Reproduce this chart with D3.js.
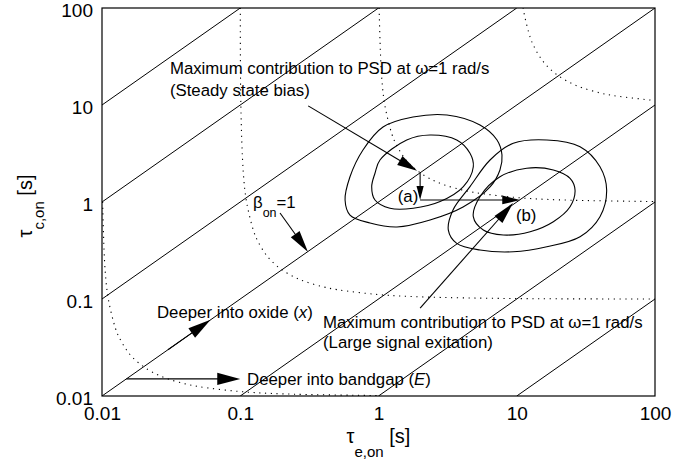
<!DOCTYPE html>
<html><head><meta charset="utf-8">
<script src="https://cdn.jsdelivr.net/npm/d3@7"></script>
<style>
body{margin:0;background:#fff}
svg{display:block}
text{font-family:"Liberation Sans",Arial,Helvetica,sans-serif;fill:#000}
</style>
</head><body>
<svg id="c" width="696" height="464"></svg>
<script>
// ---------- data ----------
const tickValues = [0.01, 0.1, 1, 10, 100];
const tickLabels = ["0.01", "0.1", "1", "10", "100"];
// lines of constant tau_c/tau_e
const diagonalRatios = [1000, 100, 10, 1, 0.1, 0.01, 0.001];
// dotted iso-curves (tau_e, tau_c)
const isoTau001 = [[0.010101,1],[0.010526,0.2],[0.01111,0.1],[0.0125,0.05],[0.01333,0.04],[0.015,0.03],[0.01667,0.025],[0.02,0.02],[0.025,0.01667],[0.03,0.015],[0.04,0.01333],[0.05,0.0125],[0.1,0.01111],[0.2,0.010526],[1,0.010101]];
const isoTau01 = [[0.1001,100],[0.10101,10],[0.10526,2],[0.1111,1],[0.125,0.5],[0.1333,0.4],[0.15,0.3],[0.1667,0.25],[0.2,0.2],[0.25,0.1667],[0.3,0.15],[0.4,0.1333],[0.5,0.125],[1,0.1111],[2,0.10526],[10,0.10101],[100,0.1001]];
const isoTau1 = [[1.0101,100],[1.0526,20],[1.111,10],[1.25,5],[1.333,4],[1.5,3],[1.667,2.5],[2,2],[2.5,1.667],[3,1.5],[4,1.333],[5,1.25],[10,1.111],[20,1.0526],[100,1.0101]];
const isoTau10 = [[10.526,200],[11.11,100],[12.5,50],[13.33,40],[15,30],[16.67,25],[20,20],[25,16.67],[30,15],[40,13.33],[50,12.5],[100,11.11]];
// solid closed contours (tau_e, tau_c)
const contourAInner = [[1.025,2.71],[1.60,4.36],[2.36,4.91],[3.68,4.36],[4.59,3.18],[4.85,2.31],[4.11,1.44],[2.79,1.01],[1.785,0.861],[1.211,0.861],[0.943,1.048],[0.893,1.44],[0.943,1.98]];
const contourAOuter = [[0.573,1.048],[0.622,1.82],[0.772,3.44],[1.078,5.93],[1.776,7.52],[3.13,7.89],[5.42,6.22],[7.20,4.36],[7.82,3.05],[7.56,2.14],[6.41,1.43],[4.09,0.888],[2.36,0.652],[1.36,0.553],[0.868,0.608],[0.622,0.734]];
const contourBInner = [[4.85,0.706],[5.42,1.134],[7.56,1.82],[11.8,2.23],[18.4,2.14],[24.3,1.755],[26.4,1.33],[24.3,0.894],[18.4,0.627],[12.5,0.494],[7.99,0.457],[5.73,0.514]];
const contourBOuter = [[3.20,0.514],[3.46,0.827],[4.59,1.44],[6.41,2.71],[9.44,4.03],[16.5,4.36],[28.7,3.72],[40.0,2.31],[44.7,1.33],[40.0,0.706],[28.7,0.439],[16.5,0.346],[9.44,0.307],[5.42,0.320],[3.68,0.375]];

// annotation arrows (data coords)
const arrowFrom = [[0.31,9.8],[2,2],[2,1.05],[2.0,0.0807],[0.194,0.77],[0.03,0.03],[0.015,0.015]];
const arrowTo   = [[1.9,2.1],[2,1.05],[10.6,1.05],[9.4,0.976],[0.309,0.305],[0.061,0.061],[0.1,0.015]];

// ---------- layout ----------
const L = 102, R = 655, T = 8, B = 396;
const svg = d3.select("#c");
const x = d3.scaleLog().domain([0.01, 100]).range([L, R]);
const y = d3.scaleLog().domain([0.01, 100]).range([B, T]);

svg.append("defs").append("clipPath").attr("id","clip")
  .append("rect").attr("x",L).attr("y",T).attr("width",R-L).attr("height",B-T);
const plot = svg.append("g").attr("clip-path","url(#clip)");

// diagonal lines
diagonalRatios.forEach(r => {
  const x0 = Math.max(0.01, 0.01 / r), x1 = Math.min(100, 100 / r);
  plot.append("line")
    .attr("x1", x(x0)).attr("y1", y(x0 * r))
    .attr("x2", x(x1)).attr("y2", y(x1 * r))
    .attr("stroke","#000").attr("stroke-width",1);
});

// dotted iso curves
const line = d3.line().x(d => x(d[0])).y(d => y(d[1])).curve(d3.curveCatmullRom);
[isoTau001, isoTau01, isoTau1, isoTau10].forEach(pts => {
  plot.append("path").attr("d", line(pts)).attr("fill","none")
    .attr("stroke","#000").attr("stroke-width",1.1)
    .attr("stroke-dasharray","1.2,4.6");
});

// closed contours
const closed = d3.line().x(d => x(d[0])).y(d => y(d[1])).curve(d3.curveCatmullRomClosed);
[contourAInner, contourAOuter, contourBInner, contourBOuter].forEach(pts => {
  plot.append("path").attr("d", closed(pts)).attr("fill","none")
    .attr("stroke","#000").attr("stroke-width",1.1);
});

// arrows
const heads = [[20,5.2],[14,3.6],[18,4.4],[22,5.3],[22,5.4],[23,5.8],[23,6.2]];
arrowFrom.forEach((f, i) => {
  const p0 = [x(f[0]), y(f[1])], p1 = [x(arrowTo[i][0]), y(arrowTo[i][1])];
  const dx = p1[0]-p0[0], dy = p1[1]-p0[1], len = Math.hypot(dx, dy);
  const ux = dx/len, uy = dy/len, nx = -uy, ny = ux;
  const [hl, hw] = heads[i];
  const bx = p1[0]-ux*hl, by = p1[1]-uy*hl;
  svg.append("line").attr("x1",p0[0]).attr("y1",p0[1]).attr("x2",bx+ux*2).attr("y2",by+uy*2)
    .attr("stroke","#000").attr("stroke-width",1.1);
  svg.append("path")
    .attr("d", `M${p1[0]},${p1[1]}L${bx+nx*hw},${by+ny*hw}L${bx},${by}L${bx-nx*hw},${by-ny*hw}Z`)
    .attr("fill","#000");
});

// frame
svg.append("rect").attr("x",L).attr("y",T).attr("width",R-L).attr("height",B-T)
  .attr("fill","none").attr("stroke","#000").attr("stroke-width",1.2);

// axes
const xAxis = d3.axisBottom(x).tickValues(tickValues).tickFormat((d,i)=>tickLabels[i]).tickSize(0).tickPadding(11);
const yAxis = d3.axisLeft(y).tickValues(tickValues).tickFormat((d,i)=>tickLabels[i]).tickSize(0).tickPadding(9);
const gx = svg.append("g").attr("transform",`translate(0,${B})`).call(xAxis);
const gy = svg.append("g").attr("transform",`translate(${L},0)`).call(yAxis);
[gx, gy].forEach(g => {
  g.select(".domain").remove();
  g.selectAll("text").attr("font-size",19).attr("font-family","Liberation Sans, Arial, sans-serif").attr("fill","#000");
});
gy.selectAll("text").attr("dy","0.46em");

// axis titles
const xt = svg.append("text").attr("x", (L+R)/2).attr("y", 443).attr("text-anchor","middle").attr("font-size",20);
xt.append("tspan").text("\u03C4");
xt.append("tspan").attr("font-size",15).attr("dy",14).text("e,on");
xt.append("tspan").attr("dy",-14).text(" [s]");

const yt = svg.append("text").attr("transform",`translate(32,${(T+B)/2+4}) rotate(-90)`)
  .attr("text-anchor","middle").attr("font-size",20);
yt.append("tspan").text("\u03C4");
yt.append("tspan").attr("font-size",15).attr("dy",12).text("c,on");
yt.append("tspan").attr("dy",-12).text(" [s]");

// annotation texts
const fs = 16.8;
function label(px, py, parts, anchor) {
  const t = svg.append("text").attr("x", px).attr("y", py).attr("font-size", fs)
    .attr("dominant-baseline","central").attr("text-anchor", anchor || "start");
  parts.forEach(p => {
    const s = t.append("tspan").text(p.t);
    if (p.i) s.attr("font-style","italic");
  });
  return t;
}
label(x(0.031), y(24.0), [{t:"Maximum contribution to PSD at \u03C9=1 rad/s"}]);
label(x(0.031), y(14.3), [{t:"(Steady state bias)"}]);
label(x(0.025), y(0.0734), [{t:"Deeper into oxide ("},{t:"x",i:1},{t:")"}]);
label(x(0.112), y(0.015), [{t:"Deeper into bandgap ("},{t:"E",i:1},{t:")"}]);
label(x(0.397), y(0.058), [{t:"Maximum contribution to PSD at \u03C9=1 rad/s"}]);
label(x(0.397), y(0.036), [{t:"(Large signal exitation)"}]);
label(x(1.635), y(1.153), [{t:"(a)"}], "middle");
label(x(11.7), y(0.734), [{t:"(b)"}], "middle");
// beta label
const bt = svg.append("text").attr("x", x(0.1236)).attr("y", y(1.0)+6).attr("font-size", fs);
bt.append("tspan").text("\u03B2");
bt.append("tspan").attr("font-size",12.5).attr("dy",9).text("on");
bt.append("tspan").attr("dy",-9).text("=1");
</script>
</body></html>
